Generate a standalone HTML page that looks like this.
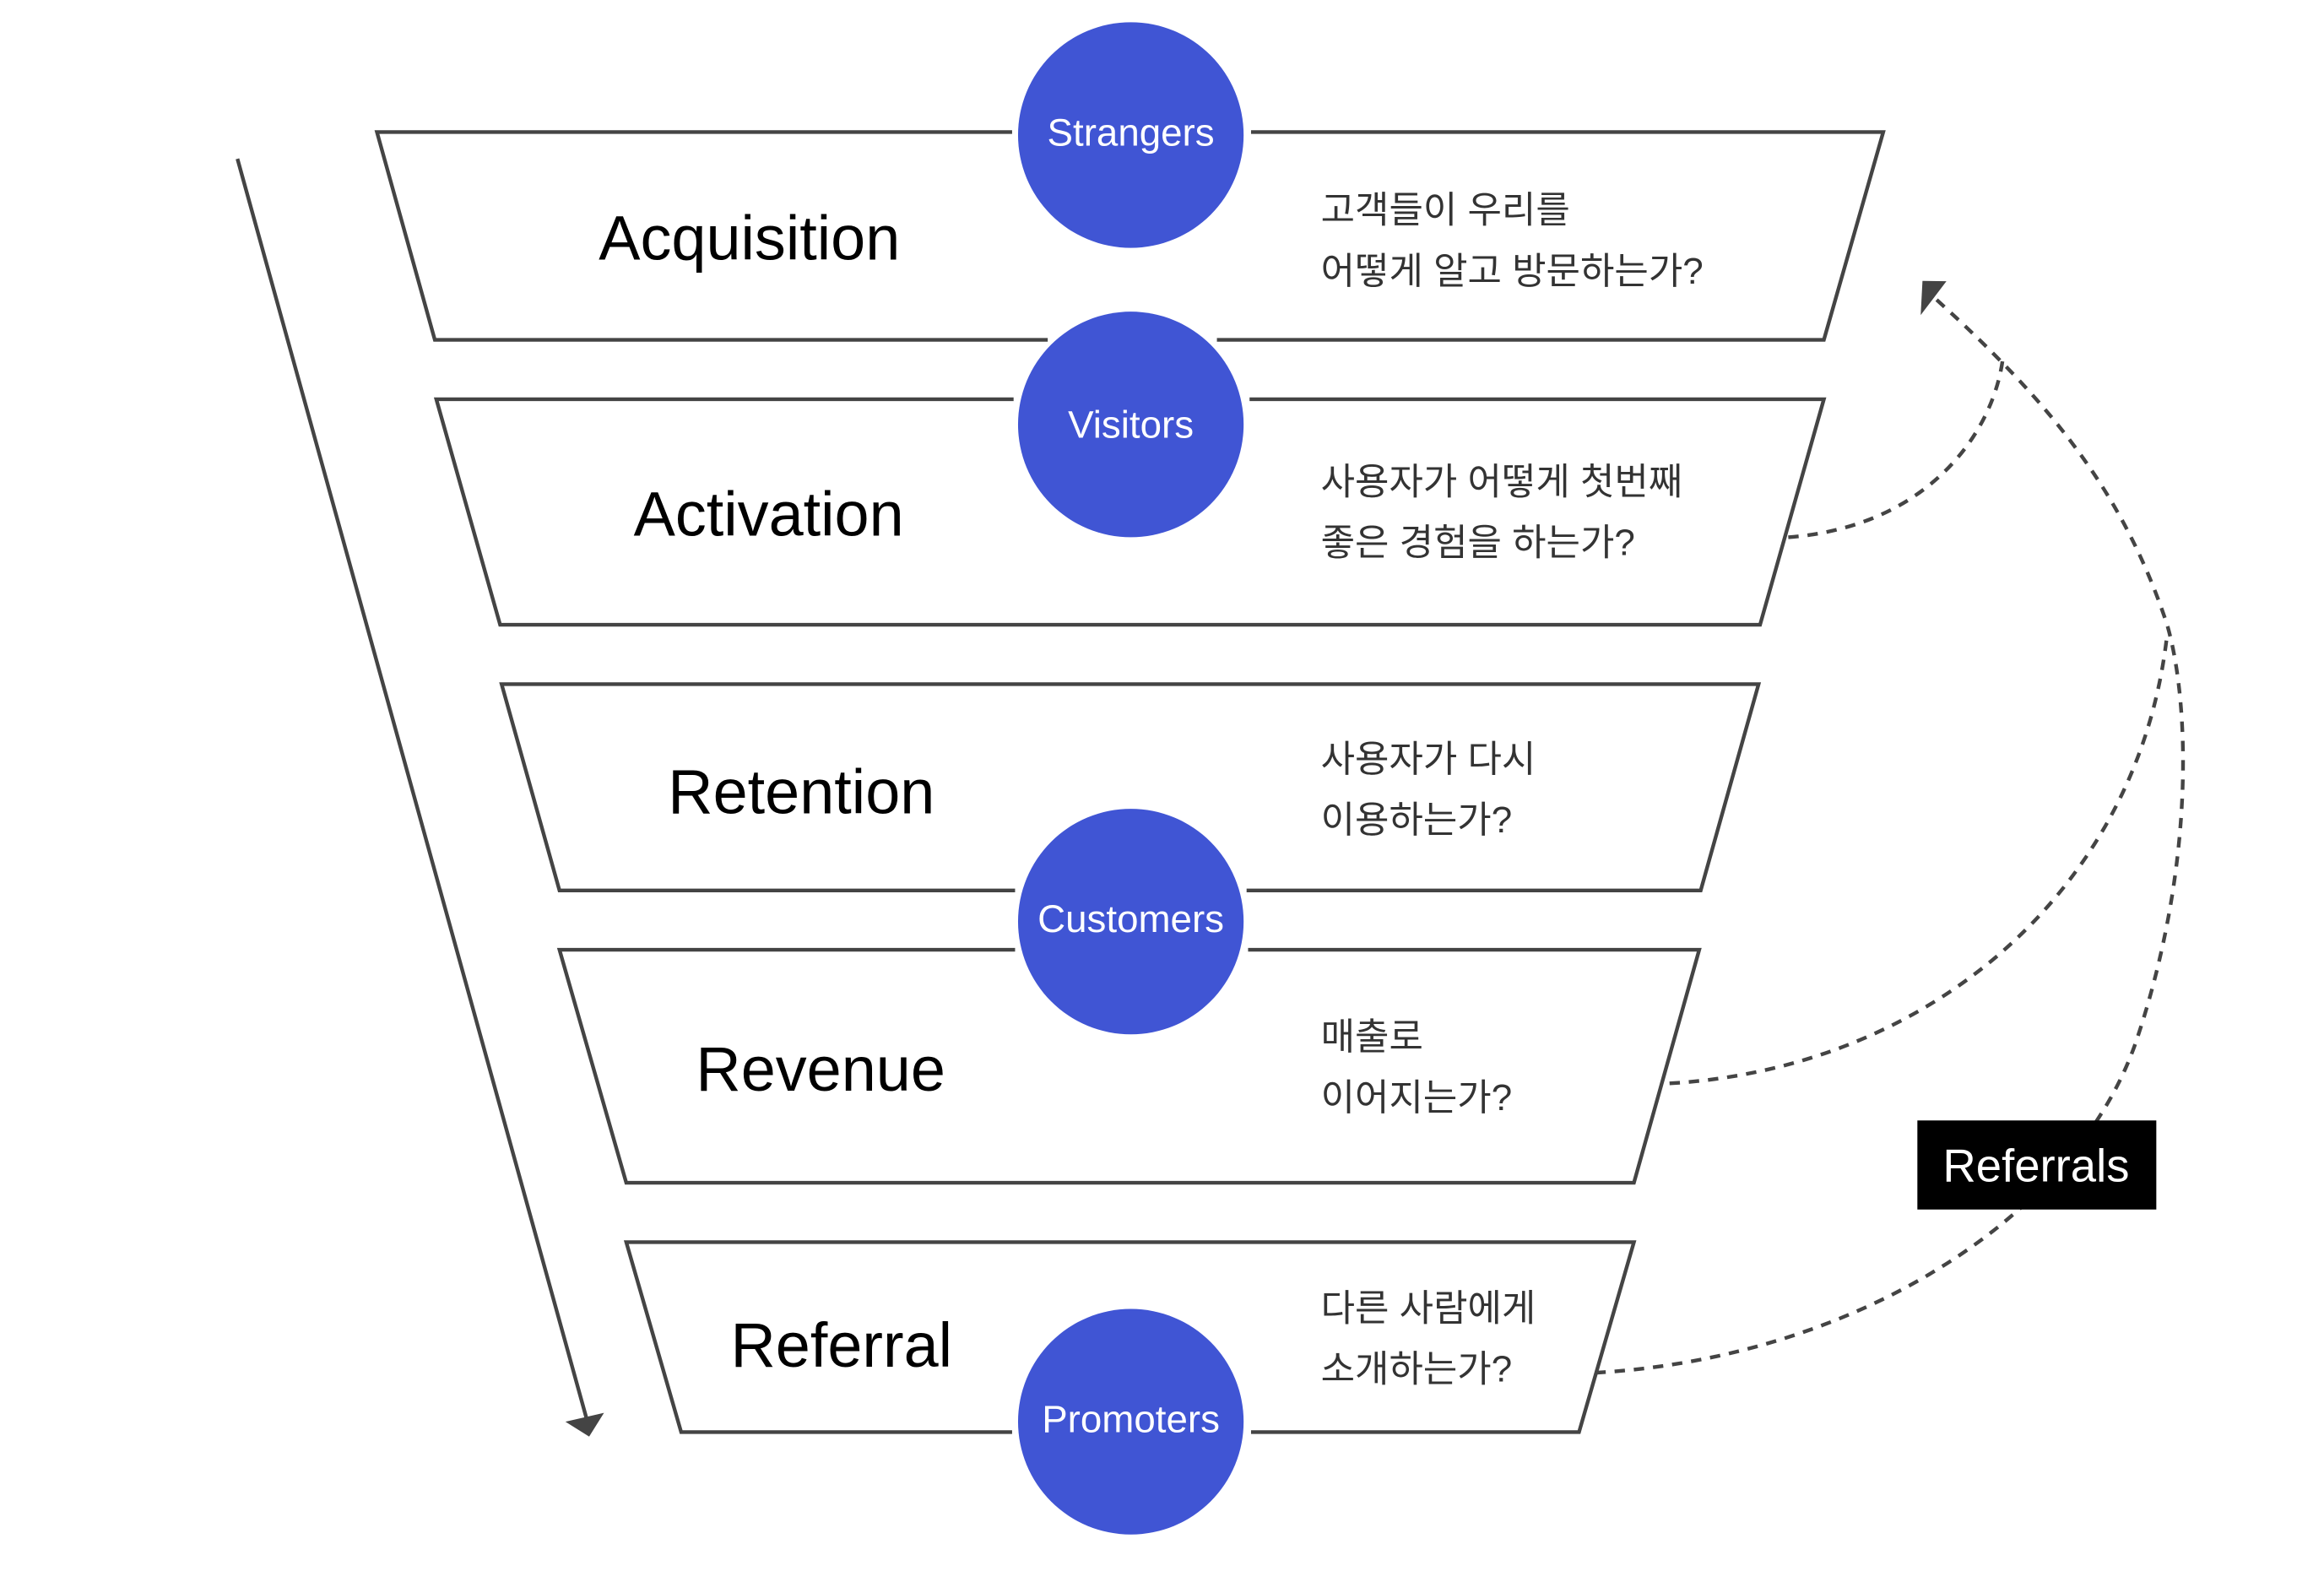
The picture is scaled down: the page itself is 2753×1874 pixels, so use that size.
<!DOCTYPE html>
<html><head><meta charset="utf-8"><style>
html,body{margin:0;padding:0;background:#fff;width:2753px;height:1874px;overflow:hidden}
svg{display:block}
.t{font-family:"Liberation Sans","Noto Sans CJK KR",sans-serif}
</style></head><body>
<svg width="2753" height="1874" viewBox="0 0 1566 1066" preserveAspectRatio="none" xmlns="http://www.w3.org/2000/svg">
<g fill="none" stroke="#444" stroke-width="2.5">
<polyline points="682,89 254,89 293,229 706,229"/>
<polyline points="843,89 1269,89 1229,229 820,229"/>
<polyline points="683,269 294,269 337,421 1186,421 1229,269 842,269"/>
<polyline points="684,600 377,600 338,461 1185,461 1146,600 840,600"/>
<polyline points="684,640 377,640 422,797 1101,797 1145,640 841,640"/>
<polyline points="682,965 459,965 422,837 1101,837 1064,965 843,965"/>
<line x1="160" y1="107" x2="395" y2="955"/>
</g>
<polygon points="381,958 407,952 397,968" fill="#444"/>
<g fill="none" stroke="#444" stroke-width="2.5" stroke-dasharray="7,6">
<path d="M1075,925 C1250,915 1400,820 1440,700 C1480,580 1475,470 1460,420 C1430,330 1380,270 1305,202"/>
<path d="M1125,730 C1300,720 1440,600 1460,430"/>
<path d="M1205,362 C1300,355 1345,290 1350,238"/>
</g>
<polygon points="1294,190 1310,188 1296,213" fill="#444" transform="rotate(8 1300 200)"/>
<rect x="1292" y="755" width="161" height="60" fill="#000"/>
<text x="1372" y="796" font-size="31" fill="#fff" text-anchor="middle" class="t">Referrals</text>
<g fill="#4055d4">
<circle cx="762" cy="91" r="76"/>
<circle cx="762" cy="286" r="76"/>
<circle cx="762" cy="621" r="76"/>
<circle cx="762" cy="958" r="76"/>
</g>
<g fill="#fff" font-size="26" text-anchor="middle" class="t">
<text x="762" y="98">Strangers</text>
<text x="762" y="295">Visitors</text>
<text x="762" y="628">Customers</text>
<text x="762" y="965">Promoters</text>
</g>
<g fill="#000" font-size="42" text-anchor="middle" class="t">
<text x="505" y="175">Acquisition</text>
<text x="518" y="361">Activation</text>
<text x="540" y="548">Retention</text>
<text x="553" y="735">Revenue</text>
<text x="567" y="921">Referral</text>
</g>
<g fill="#333" font-size="25" class="t">
<text x="890" y="150">고객들이 우리를</text>
<text x="890" y="191">어떻게 알고 방문하는가?</text>
<text x="890" y="333">사용자가 어떻게 첫번째</text>
<text x="890" y="374">좋은 경험을 하는가?</text>
<text x="890" y="520">사용자가 다시</text>
<text x="890" y="561">이용하는가?</text>
<text x="890" y="707">매출로</text>
<text x="890" y="748">이어지는가?</text>
<text x="890" y="890">다른 사람에게</text>
<text x="890" y="931">소개하는가?</text>
</g>
</svg>
</body></html>
